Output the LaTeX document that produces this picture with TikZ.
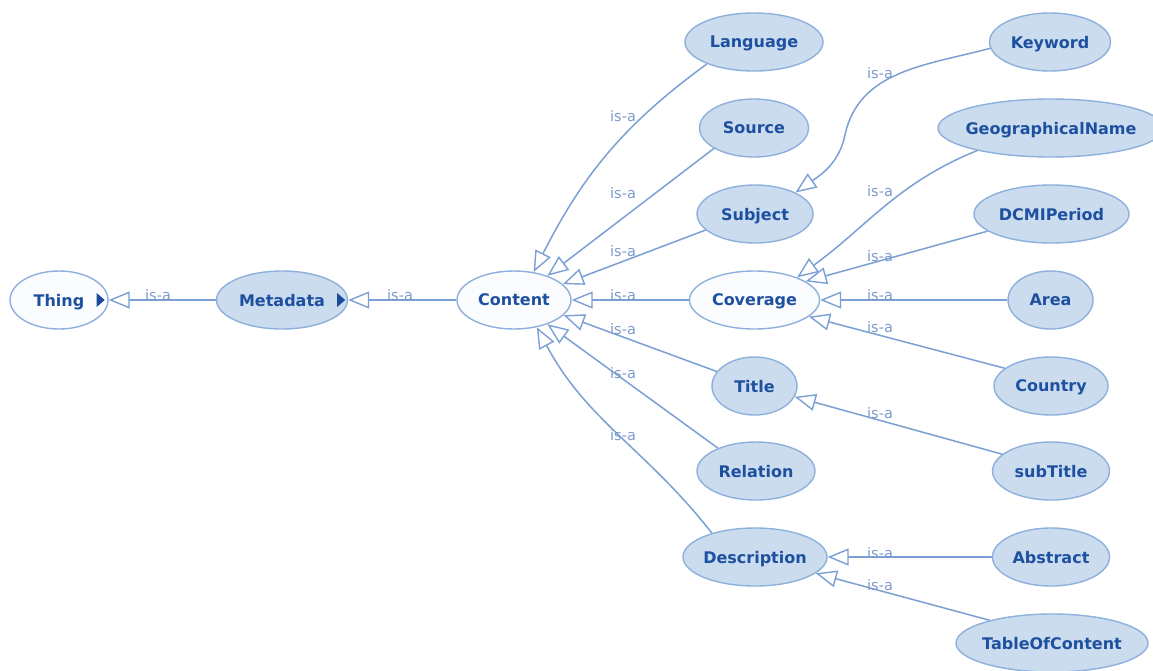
\documentclass[tikz,border=0pt]{standalone}
\usepackage{fontspec}
\setmainfont{DejaVu Sans}
\usetikzlibrary{shapes.geometric,arrows.meta}

\definecolor{edgecol}{HTML}{7AA0D4}
\definecolor{rimcol}{HTML}{8DB0DC}
\definecolor{classfill}{HTML}{CBDCEF}
\definecolor{rootfill}{HTML}{FBFCFE}
\definecolor{namecol}{HTML}{1E50A0}
\definecolor{isacol}{HTML}{7F9ACB}
\definecolor{markcol}{HTML}{1B4C9C}

% class name centred on the node, without widening the ellipse
\newcommand{\cname}[1]{\smash{\makebox[0pt]{\raisebox{-0.5\height}{#1}}}}

\tikzset{
  cls/.style={ellipse, draw=rimcol, line width=1.4pt, fill=classfill, inner sep=0pt,
    text=namecol, font=\bfseries\fontsize{16}{16}\selectfont, minimum height=58pt},
  rootcls/.style={cls, fill=rootfill},
  isa/.style={draw=edgecol, line width=1.5pt,
    -{Triangle[open, length=21pt, width=17pt, line width=1.4pt]}},
  isalabel/.style={text=isacol, font=\fontsize{14.5}{14.5}\selectfont, inner sep=0pt,
    anchor=base west},
  expander/.style={fill=markcol}
}

\begin{document}
\begin{tikzpicture}[x=1pt,y=1pt]
\fill[white] (0,0) rectangle (1153,-670);
\useasboundingbox (0,0) rectangle (1153,-670);

% classes
\node[rootcls, minimum width=98pt]  (Thing)    at (59,-300)   {\cname{Thing}};
\node[cls, minimum width=131pt]     (Metadata) at (282,-300)  {\cname{Metadata}};
\node[rootcls, minimum width=114pt] (Content)  at (514,-300)  {\cname{Content}};

\node[cls, minimum width=138pt]     (Language)    at (754,-42)    {\cname{Language}};
\node[cls, minimum width=109pt]     (Source)      at (754,-128)   {\cname{Source}};
\node[cls, minimum width=116pt]     (Subject)     at (755,-214)   {\cname{Subject}};
\node[rootcls, minimum width=130pt] (Coverage)    at (754.5,-300) {\cname{Coverage}};
\node[cls, minimum width=85pt]      (Title)       at (754.5,-386) {\cname{Title}};
\node[cls, minimum width=118pt]     (Relation)    at (756,-471)   {\cname{Relation}};
\node[cls, minimum width=144pt]     (Description) at (755,-557)   {\cname{Description}};

\node[cls, minimum width=121pt] (Keyword)          at (1050,-42)    {\cname{Keyword}};
\node[cls, minimum width=226pt] (GeographicalName) at (1051,-128)   {\cname{GeographicalName}};
\node[cls, minimum width=155pt] (DCMIPeriod)       at (1051.5,-214) {\cname{DCMIPeriod}};
\node[cls, minimum width=85pt]  (Area)             at (1050.5,-300) {\cname{Area}};
\node[cls, minimum width=114pt] (Country)          at (1051,-386)   {\cname{Country}};
\node[cls, minimum width=117pt] (subTitle)         at (1051,-471)   {\cname{subTitle}};
\node[cls, minimum width=117pt] (Abstract)         at (1051,-557)   {\cname{Abstract}};
\node[cls, minimum width=192pt] (TableOfContent)   at (1052,-643)   {\cname{TableOfContent}};

% expand markers on collapsed classes
\fill[expander] ([shift={(-12,7)}]Thing.east) -- ++(8,-7) -- ++(-8,-7) -- cycle;
\fill[expander] ([shift={(-11,7)}]Metadata.east) -- ++(8,-7) -- ++(-8,-7) -- cycle;

% is-a links
\coordinate (kwbend) at (845,-135);
\draw[isa] (Metadata) -- (Thing);
\draw[isa] (Content) -- (Metadata);
\draw[isa] (Language.205) to[out=216,in=63] (Content.55);
\draw[isa] (Source.207) -- (Content.36);
\draw[isa] (Subject.198) -- (Content.18);
\draw[isa] (Coverage) -- (Content);
\draw[isa] (Title.159) -- (Content.-17);
\draw[isa] (Relation.149) -- (Content.-36);
\draw[isa] (Description.151) to[out=128,in=-62] (Content.-50);
\draw[isa] (Keyword.186) to[out=195,in=78] (kwbend) to[out=-102,in=35] (Subject.28);
\draw[isa] (GeographicalName.197) to[out=202,in=36] (Coverage.28);
\draw[isa] (DCMIPeriod.195) -- (Coverage.20);
\draw[isa] (Area) -- (Coverage);
\draw[isa] (Country.159) -- (Coverage.-17);
\draw[isa] (subTitle.161) -- (Title.-15);
\draw[isa] (Abstract) -- (Description);
\draw[isa] (TableOfContent.160) -- (Description.-15);

% link labels
\node[isalabel] (la1) at (145,-300) {is-a};
\node[isalabel] (la2) at (387,-300) {is-a};
\node[isalabel] (lb1) at (610,-121) {is-a};
\node[isalabel] (lb2) at (610,-198) {is-a};
\node[isalabel] (lb3) at (610,-256) {is-a};
\node[isalabel] (lb4) at (610,-300) {is-a};
\node[isalabel] (lb5) at (610,-334) {is-a};
\node[isalabel] (lb6) at (610,-378) {is-a};
\node[isalabel] (lb7) at (610,-440) {is-a};
\node[isalabel] (lc1) at (867,-78)  {is-a};
\node[isalabel] (lc2) at (867,-196) {is-a};
\node[isalabel] (lc3) at (867,-261) {is-a};
\node[isalabel] (lc4) at (867,-300) {is-a};
\node[isalabel] (lc5) at (867,-332) {is-a};
\node[isalabel] (lc6) at (867,-418) {is-a};
\node[isalabel] (lc7) at (867,-558) {is-a};
\node[isalabel] (lc8) at (867,-590) {is-a};
\end{tikzpicture}
\end{document}
